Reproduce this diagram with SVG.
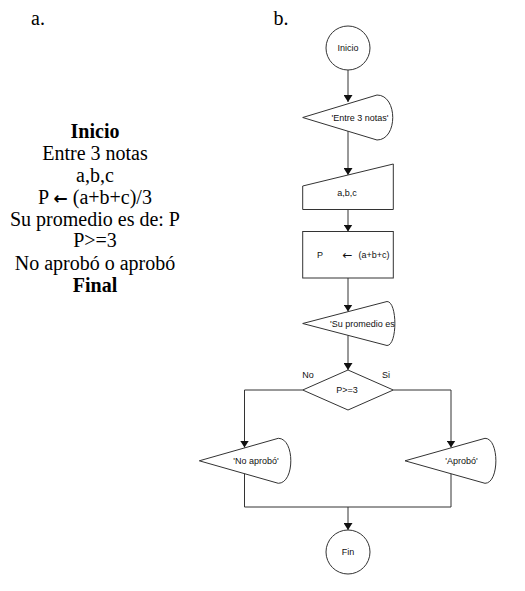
<svg xmlns="http://www.w3.org/2000/svg" width="525" height="591" viewBox="0 0 525 591">
<style>
.bg{fill:#fff}
.shape{fill:#fff;stroke:#333;stroke-width:1}
.line{fill:none;stroke:#333;stroke-width:1}
.lt{font-family:"Liberation Serif","Times New Roman",serif;font-size:20px;fill:#000;text-anchor:middle}
.b{font-weight:bold}
.ft{font-family:"Liberation Sans",Arial,sans-serif;font-size:9px;fill:#111;text-anchor:middle}
.sym{font-family:"DejaVu Sans",sans-serif}
</style>
<defs>
<marker id="arr" markerWidth="8" markerHeight="9" refX="7" refY="4.5" orient="auto" markerUnits="userSpaceOnUse">
<path d="M0,0 L7,4.5 L0,9 z" fill="#111"/>
</marker>
<clipPath id="clipSu"><path d="M302.7,323.5 L387,301.5 C397.5,301.5 397.5,345.5 387,345.5 Z"/></clipPath>
</defs>
<rect class="bg" x="0" y="0" width="525" height="591"/>

<g id="labels">
<text class="lt" x="38" y="25">a.</text>
<text class="lt" x="281" y="25">b.</text>
</g>

<g id="pseudocode">
<text class="lt b" x="95" y="138">Inicio</text>
<text class="lt" x="95" y="160">Entre 3 notas</text>
<text class="lt" x="95" y="182">a,b,c</text>
<text class="lt" x="95" y="204">P <tspan class="sym" style="font-size:17px;font-weight:bold">←</tspan> (a+b+c)/3</text>
<text class="lt" x="95" y="225.5">Su promedio es de: P</text>
<text class="lt" x="95" y="247">P&gt;=3</text>
<text class="lt" x="95" y="269.5">No aprobó o aprobó</text>
<text class="lt b" x="95" y="291.5">Final</text>
</g>

<g id="connectors">
<path class="line" d="M348,70 L348,102" marker-end="url(#arr)"/>
<path class="line" d="M348,131 L348,175" marker-end="url(#arr)"/>
<path class="line" d="M348,209.5 L348,231.5" marker-end="url(#arr)"/>
<path class="line" d="M348,278 L348,311.5" marker-end="url(#arr)"/>
<path class="line" d="M348,335.3 L348,370" marker-end="url(#arr)"/>
<path class="line" d="M302.7,390 L244.5,390 L244.5,447.5" marker-end="url(#arr)"/>
<path class="line" d="M393.3,390 L451,390 L451,447.5" marker-end="url(#arr)"/>
<path class="line" d="M244.5,473 L244.5,507 L451,507 L451,473"/>
<path class="line" d="M348,507 L348,530" marker-end="url(#arr)"/>
</g>

<g id="inicio">
<circle class="shape" cx="348" cy="48" r="22"/>
<text class="ft" x="348" y="51">Inicio</text>
</g>

<g id="entre">
<path class="shape" d="M302.7,117.5 L377,95 C398,95 398,140 377,140 Z"/>
<text class="ft" x="360" y="120.5">'Entre 3 notas'</text>
</g>

<g id="abc">
<path class="shape" d="M302.7,186 L393.3,164 L393.3,209.5 L302.7,209.5 Z"/>
<text class="ft" x="347" y="196">a,b,c</text>
</g>

<g id="asignacion">
<rect class="shape" x="302.7" y="231.5" width="90.6" height="46.5"/>
<text class="ft" x="320" y="258">P</text>
<text class="ft sym" x="347.5" y="258.5" style="font-size:12px">←</text>
<text class="ft" x="374" y="258">(a+b+c)</text>
</g>

<g id="promedio">
<path class="shape" d="M302.7,323.5 L387,301.5 C397.5,301.5 397.5,345.5 387,345.5 Z"/>
<text class="ft" x="330" y="326.5" style="text-anchor:start" clip-path="url(#clipSu)">'Su promedio es de: P'</text>
</g>

<g id="decision">
<path class="shape" d="M348,370 L393.3,390 L348,410 L302.7,390 Z"/>
<text class="ft" x="347" y="393">P&gt;=3</text>
<text class="ft" x="308" y="378">No</text>
<text class="ft" x="386" y="378">Si</text>
</g>

<g id="noaprobo">
<path class="shape" d="M199.3,460.8 L278.3,438.3 C295,438.3 295,483.3 278.3,483.3 Z"/>
<text class="ft" x="256" y="463.5">'No aprobó'</text>
</g>

<g id="aprobo">
<path class="shape" d="M405,460.8 L485,438.3 C499.5,438.3 499.5,483.3 485,483.3 Z"/>
<text class="ft" x="461.5" y="463.5">'Aprobó'</text>
</g>

<g id="fin">
<circle class="shape" cx="348" cy="552" r="22"/>
<text class="ft" x="348" y="555">Fin</text>
</g>
</svg>
